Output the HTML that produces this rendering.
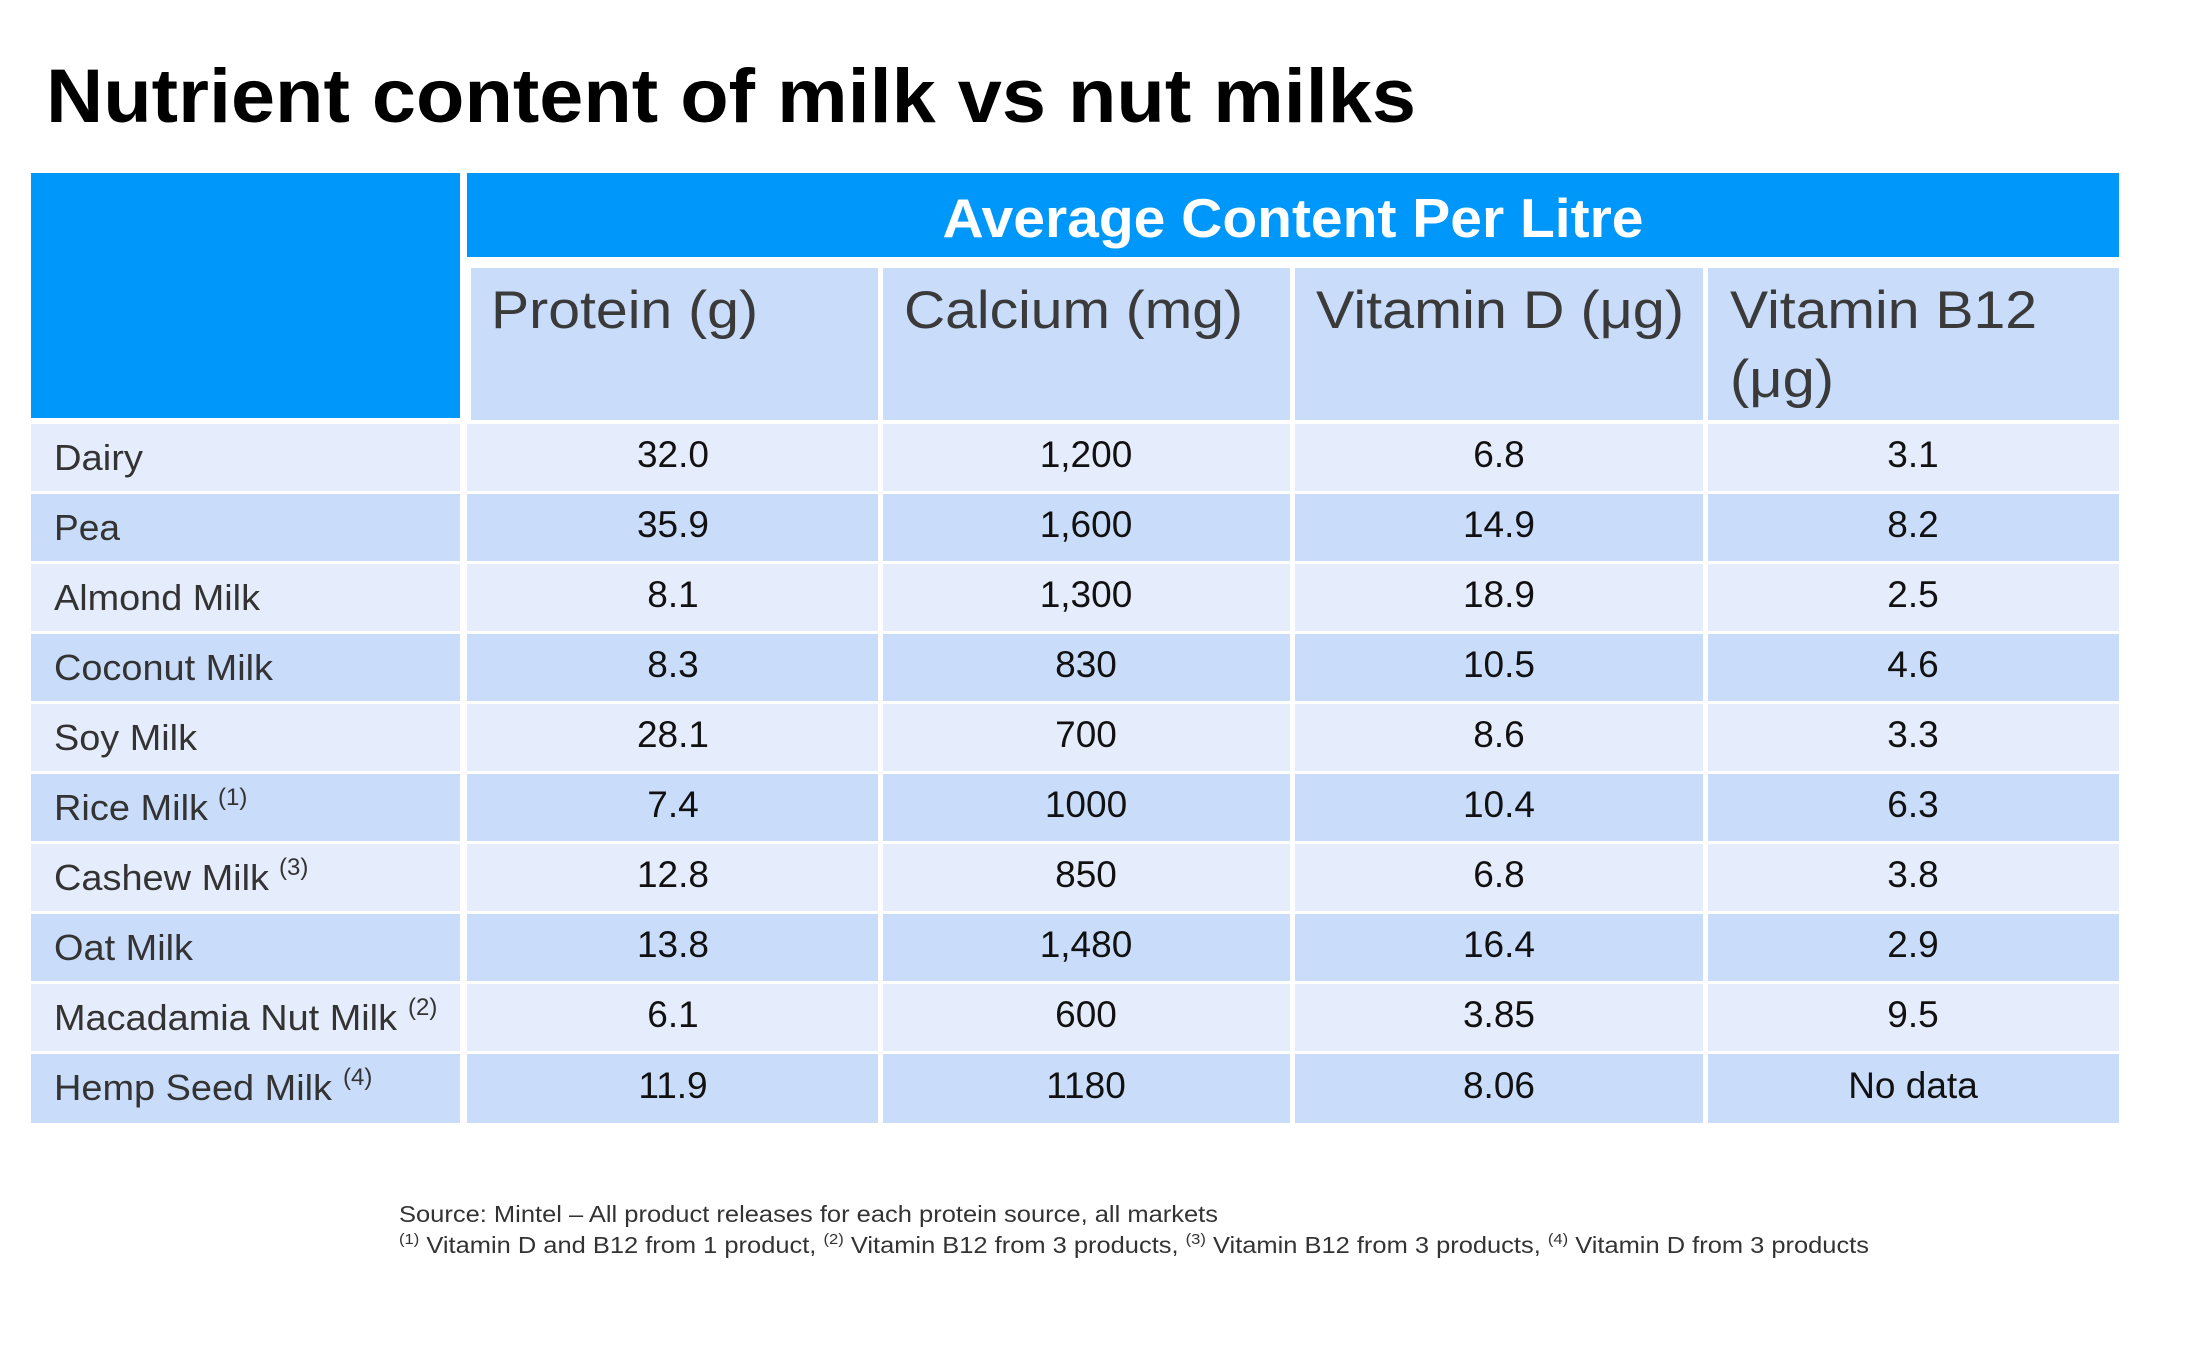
<!DOCTYPE html>
<html><head><meta charset="utf-8"><style>
html,body{margin:0;padding:0;background:#fff;}
svg{display:block;font-family:"Liberation Sans",Arial,sans-serif;}
</style></head><body>
<svg width="2200" height="1356" viewBox="0 0 2200 1356" xmlns="http://www.w3.org/2000/svg">
<rect width="2200" height="1356" fill="#fff"/>
<text x="46" y="122" font-size="76" font-weight="bold" fill="#000" textLength="1370" lengthAdjust="spacingAndGlyphs">Nutrient content of milk vs nut milks</text>

<rect x="31" y="173" width="429" height="245" fill="#0097fb"/>
<rect x="467" y="173" width="1652" height="84" fill="#0097fb"/>
<text x="1293" y="237" font-size="55" font-weight="bold" fill="#fff" text-anchor="middle" textLength="701" lengthAdjust="spacingAndGlyphs">Average Content Per Litre</text>

<g fill="#c9ddfb">
<rect x="471" y="268" width="407" height="152"/>
<rect x="883" y="268" width="407" height="152"/>
<rect x="1295" y="268" width="408" height="152"/>
<rect x="1708" y="268" width="411" height="152"/>
</g>
<g font-size="53" fill="#3a3a3a">
<text x="491" y="328" textLength="267" lengthAdjust="spacingAndGlyphs">Protein (g)</text>
<text x="904" y="328" textLength="339" lengthAdjust="spacingAndGlyphs">Calcium (mg)</text>
<text x="1316" y="328" textLength="368" lengthAdjust="spacingAndGlyphs">Vitamin D (μg)</text>
<text x="1730" y="328" textLength="307" lengthAdjust="spacingAndGlyphs">Vitamin B12</text>
<text x="1730" y="397" textLength="104" lengthAdjust="spacingAndGlyphs">(μg)</text>
</g>

<g>
<rect x="31" y="424" width="429" height="67" fill="#e5edfc"/><rect x="467" y="424" width="411" height="67" fill="#e5edfc"/><rect x="883" y="424" width="407" height="67" fill="#e5edfc"/><rect x="1295" y="424" width="408" height="67" fill="#e5edfc"/><rect x="1708" y="424" width="411" height="67" fill="#e5edfc"/>
<rect x="31" y="494" width="429" height="67" fill="#c9dcfa"/><rect x="467" y="494" width="411" height="67" fill="#c9dcfa"/><rect x="883" y="494" width="407" height="67" fill="#c9dcfa"/><rect x="1295" y="494" width="408" height="67" fill="#c9dcfa"/><rect x="1708" y="494" width="411" height="67" fill="#c9dcfa"/>
<rect x="31" y="564" width="429" height="67" fill="#e5edfc"/><rect x="467" y="564" width="411" height="67" fill="#e5edfc"/><rect x="883" y="564" width="407" height="67" fill="#e5edfc"/><rect x="1295" y="564" width="408" height="67" fill="#e5edfc"/><rect x="1708" y="564" width="411" height="67" fill="#e5edfc"/>
<rect x="31" y="634" width="429" height="67" fill="#c9dcfa"/><rect x="467" y="634" width="411" height="67" fill="#c9dcfa"/><rect x="883" y="634" width="407" height="67" fill="#c9dcfa"/><rect x="1295" y="634" width="408" height="67" fill="#c9dcfa"/><rect x="1708" y="634" width="411" height="67" fill="#c9dcfa"/>
<rect x="31" y="704" width="429" height="67" fill="#e5edfc"/><rect x="467" y="704" width="411" height="67" fill="#e5edfc"/><rect x="883" y="704" width="407" height="67" fill="#e5edfc"/><rect x="1295" y="704" width="408" height="67" fill="#e5edfc"/><rect x="1708" y="704" width="411" height="67" fill="#e5edfc"/>
<rect x="31" y="774" width="429" height="67" fill="#c9dcfa"/><rect x="467" y="774" width="411" height="67" fill="#c9dcfa"/><rect x="883" y="774" width="407" height="67" fill="#c9dcfa"/><rect x="1295" y="774" width="408" height="67" fill="#c9dcfa"/><rect x="1708" y="774" width="411" height="67" fill="#c9dcfa"/>
<rect x="31" y="844" width="429" height="67" fill="#e5edfc"/><rect x="467" y="844" width="411" height="67" fill="#e5edfc"/><rect x="883" y="844" width="407" height="67" fill="#e5edfc"/><rect x="1295" y="844" width="408" height="67" fill="#e5edfc"/><rect x="1708" y="844" width="411" height="67" fill="#e5edfc"/>
<rect x="31" y="914" width="429" height="67" fill="#c9dcfa"/><rect x="467" y="914" width="411" height="67" fill="#c9dcfa"/><rect x="883" y="914" width="407" height="67" fill="#c9dcfa"/><rect x="1295" y="914" width="408" height="67" fill="#c9dcfa"/><rect x="1708" y="914" width="411" height="67" fill="#c9dcfa"/>
<rect x="31" y="984" width="429" height="67" fill="#e5edfc"/><rect x="467" y="984" width="411" height="67" fill="#e5edfc"/><rect x="883" y="984" width="407" height="67" fill="#e5edfc"/><rect x="1295" y="984" width="408" height="67" fill="#e5edfc"/><rect x="1708" y="984" width="411" height="67" fill="#e5edfc"/>
<rect x="31" y="1054" width="429" height="69" fill="#c9dcfa"/><rect x="467" y="1054" width="411" height="69" fill="#c9dcfa"/><rect x="883" y="1054" width="407" height="69" fill="#c9dcfa"/><rect x="1295" y="1054" width="408" height="69" fill="#c9dcfa"/><rect x="1708" y="1054" width="411" height="69" fill="#c9dcfa"/>
</g>

<g font-size="36" fill="#333">
<text x="54" y="470" textLength="89" lengthAdjust="spacingAndGlyphs">Dairy</text>
<text x="54" y="540" textLength="66" lengthAdjust="spacingAndGlyphs">Pea</text>
<text x="54" y="610" textLength="206" lengthAdjust="spacingAndGlyphs">Almond Milk</text>
<text x="54" y="680" textLength="219" lengthAdjust="spacingAndGlyphs">Coconut Milk</text>
<text x="54" y="750" textLength="143" lengthAdjust="spacingAndGlyphs">Soy Milk</text>
<text x="54" y="820" textLength="154" lengthAdjust="spacingAndGlyphs">Rice Milk</text>
<text x="218" y="805" font-size="24">(1)</text>
<text x="54" y="890" textLength="215" lengthAdjust="spacingAndGlyphs">Cashew Milk</text>
<text x="279" y="875" font-size="24">(3)</text>
<text x="54" y="960" textLength="139" lengthAdjust="spacingAndGlyphs">Oat Milk</text>
<text x="54" y="1030" textLength="343" lengthAdjust="spacingAndGlyphs">Macadamia Nut Milk</text>
<text x="408" y="1015" font-size="24">(2)</text>
<text x="54" y="1100" textLength="278" lengthAdjust="spacingAndGlyphs">Hemp Seed Milk</text>
<text x="343" y="1085" font-size="24">(4)</text>
</g>

<g font-size="37" fill="#111" text-anchor="middle">
<text x="673" y="467">32.0</text><text x="1086" y="467">1,200</text><text x="1499" y="467">6.8</text><text x="1913" y="467">3.1</text>
<text x="673" y="537">35.9</text><text x="1086" y="537">1,600</text><text x="1499" y="537">14.9</text><text x="1913" y="537">8.2</text>
<text x="673" y="607">8.1</text><text x="1086" y="607">1,300</text><text x="1499" y="607">18.9</text><text x="1913" y="607">2.5</text>
<text x="673" y="677">8.3</text><text x="1086" y="677">830</text><text x="1499" y="677">10.5</text><text x="1913" y="677">4.6</text>
<text x="673" y="747">28.1</text><text x="1086" y="747">700</text><text x="1499" y="747">8.6</text><text x="1913" y="747">3.3</text>
<text x="673" y="817">7.4</text><text x="1086" y="817">1000</text><text x="1499" y="817">10.4</text><text x="1913" y="817">6.3</text>
<text x="673" y="887">12.8</text><text x="1086" y="887">850</text><text x="1499" y="887">6.8</text><text x="1913" y="887">3.8</text>
<text x="673" y="957">13.8</text><text x="1086" y="957">1,480</text><text x="1499" y="957">16.4</text><text x="1913" y="957">2.9</text>
<text x="673" y="1027">6.1</text><text x="1086" y="1027">600</text><text x="1499" y="1027">3.85</text><text x="1913" y="1027">9.5</text>
<text x="673" y="1098">11.9</text><text x="1086" y="1098">1180</text><text x="1499" y="1098">8.06</text><text x="1913" y="1098">No data</text>
</g>

<g font-size="23" fill="#333">
<text x="399" y="1222" textLength="819" lengthAdjust="spacingAndGlyphs">Source: Mintel – All product releases for each protein source, all markets</text>
<text x="399" y="1253" textLength="1470" lengthAdjust="spacingAndGlyphs"><tspan font-size="15" dy="-9">(1)</tspan><tspan dy="9"> Vitamin D and B12 from 1 product, </tspan><tspan font-size="15" dy="-9">(2)</tspan><tspan dy="9"> Vitamin B12 from 3 products, </tspan><tspan font-size="15" dy="-9">(3)</tspan><tspan dy="9"> Vitamin B12 from 3 products, </tspan><tspan font-size="15" dy="-9">(4)</tspan><tspan dy="9"> Vitamin D from 3 products</tspan></text>
</g>
</svg>
</body></html>
